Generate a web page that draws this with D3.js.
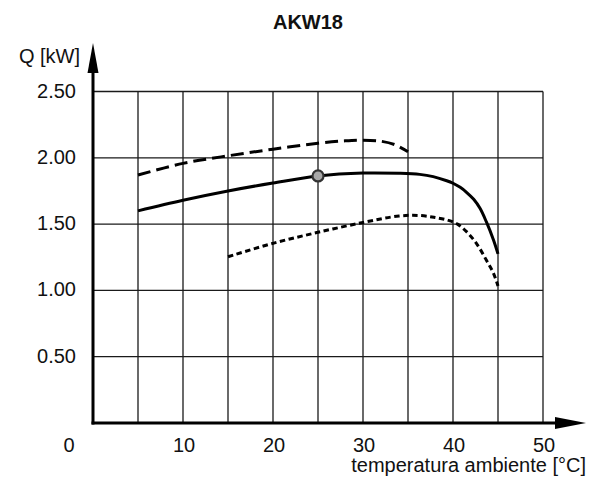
<!DOCTYPE html>
<html>
<head>
<meta charset="utf-8">
<script src="https://cdn.jsdelivr.net/npm/d3@7"></script>
<style>
  body { margin: 0; background: #fff; }
  text { font-family: "Liberation Sans", Arial, sans-serif; fill: #111; }
</style>
</head>
<body>
<script>
const title = "AKW18";
const yLabel = "Q [kW]";
const xLabel = "temperatura ambiente [°C]";

const xTicks = [10, 20, 30, 40, 50];
const yTicks = [0.5, 1.0, 1.5, 2.0, 2.5];
const xGrid = [5, 10, 15, 20, 25, 30, 35, 40, 45, 50];

// curva nominale (linea piena)
const solidT = [5, 10, 15, 20, 25, 30, 34, 36.3, 37.8, 39.3, 40, 40.8, 41.5, 42.3, 43, 43.7, 44.5, 45];
const solidQ = [1.60, 1.68, 1.75, 1.81, 1.863, 1.885, 1.883, 1.875, 1.858, 1.827, 1.808, 1.777, 1.74, 1.687, 1.619, 1.518, 1.38, 1.275];

// curva massima (tratteggio lungo)
const dashT = [5, 10, 15, 20, 25, 28, 30, 32, 33.5, 35];
const dashQ = [1.87, 1.958, 2.015, 2.065, 2.11, 2.128, 2.133, 2.125, 2.10, 2.046];

// curva minima (tratteggio corto)
const dotT = [15, 20, 25, 30, 34, 36.3, 38, 39.5, 40.5, 41.5, 42.6, 43.7, 44.5, 45];
const dotQ = [1.254, 1.355, 1.438, 1.512, 1.561, 1.565, 1.55, 1.528, 1.5, 1.443, 1.355, 1.229, 1.129, 1.033];

// punto nominale
const pointT = [25];
const pointQ = [1.863];

const width = 594, height = 481;

const svg = d3.select("body").append("svg")
  .attr("width", width)
  .attr("height", height);

const x = d3.scaleLinear().domain([0, 50]).range([93, 543]);
const y = d3.scaleLinear().domain([0, 2.5]).range([423, 91.5]);

// griglia
svg.append("g")
  .selectAll("line")
  .data(xGrid)
  .join("line")
  .attr("x1", d => x(d)).attr("x2", d => x(d))
  .attr("y1", y(0)).attr("y2", y(2.5))
  .attr("stroke", "#1a1a1a")
  .attr("stroke-width", 1.3);

svg.append("g")
  .selectAll("line")
  .data(yTicks)
  .join("line")
  .attr("x1", x(0)).attr("x2", x(50))
  .attr("y1", d => y(d)).attr("y2", d => y(d))
  .attr("stroke", "#1a1a1a")
  .attr("stroke-width", 1.3);

// assi con frecce
svg.append("line")
  .attr("x1", x(0)).attr("x2", x(0))
  .attr("y1", y(0) + 1.5).attr("y2", 62)
  .attr("stroke", "#000").attr("stroke-width", 3);
svg.append("path")
  .attr("d", `M${x(0)},43 L${x(0) + 5.5},73 L${x(0) - 5.5},73 Z`)
  .attr("fill", "#000");

svg.append("line")
  .attr("x1", x(0) - 1.5).attr("x2", 565)
  .attr("y1", y(0)).attr("y2", y(0))
  .attr("stroke", "#000").attr("stroke-width", 3);
svg.append("path")
  .attr("d", `M586,${y(0)} L555,${y(0) - 6} L555,${y(0) + 6} Z`)
  .attr("fill", "#000");

// curve
const line = d3.line()
  .x(d => x(d[0]))
  .y(d => y(d[1]))
  .curve(d3.curveCatmullRom.alpha(0.5));

const curves = [
  { t: dashT, q: dashQ, dash: "13,6" },
  { t: solidT, q: solidQ, dash: null },
  { t: dotT, q: dotQ, dash: "5.5,3.5" }
];

curves.forEach(c => {
  svg.append("path")
    .datum(c.t.map((t, i) => [t, c.q[i]]))
    .attr("fill", "none")
    .attr("stroke", "#000")
    .attr("stroke-width", 3)
    .attr("stroke-dasharray", c.dash)
    .attr("d", line);
});

svg.append("g")
  .selectAll("circle")
  .data(pointT.map((t, i) => [t, pointQ[i]]))
  .join("circle")
  .attr("cx", d => x(d[0]))
  .attr("cy", d => y(d[1]))
  .attr("r", 5.5)
  .attr("fill", "#a8a8a8")
  .attr("stroke", "#333")
  .attr("stroke-width", 2.2);

// testi
svg.append("text")
  .attr("x", 308).attr("y", 29)
  .attr("text-anchor", "middle")
  .style("font-size", "20px")
  .style("font-weight", "bold")
  .text(title);

svg.append("text")
  .attr("x", 80).attr("y", 63)
  .attr("text-anchor", "end")
  .style("font-size", "20px")
  .text(yLabel);

svg.append("g")
  .selectAll("text")
  .data(yTicks)
  .join("text")
  .attr("x", 76)
  .attr("y", d => y(d) + 6)
  .attr("text-anchor", "end")
  .style("font-size", "20px")
  .text(d => d3.format(".2f")(d));

svg.append("g")
  .selectAll("text")
  .data(xTicks)
  .join("text")
  .attr("x", d => x(d) + 1)
  .attr("y", 452)
  .attr("text-anchor", "middle")
  .style("font-size", "20px")
  .text(d => d);

svg.append("text")
  .attr("x", 69).attr("y", 452)
  .attr("text-anchor", "middle")
  .style("font-size", "20px")
  .text("0");

svg.append("text")
  .attr("x", 586).attr("y", 472)
  .attr("text-anchor", "end")
  .style("font-size", "20px")
  .text(xLabel);
</script>
</body>
</html>
